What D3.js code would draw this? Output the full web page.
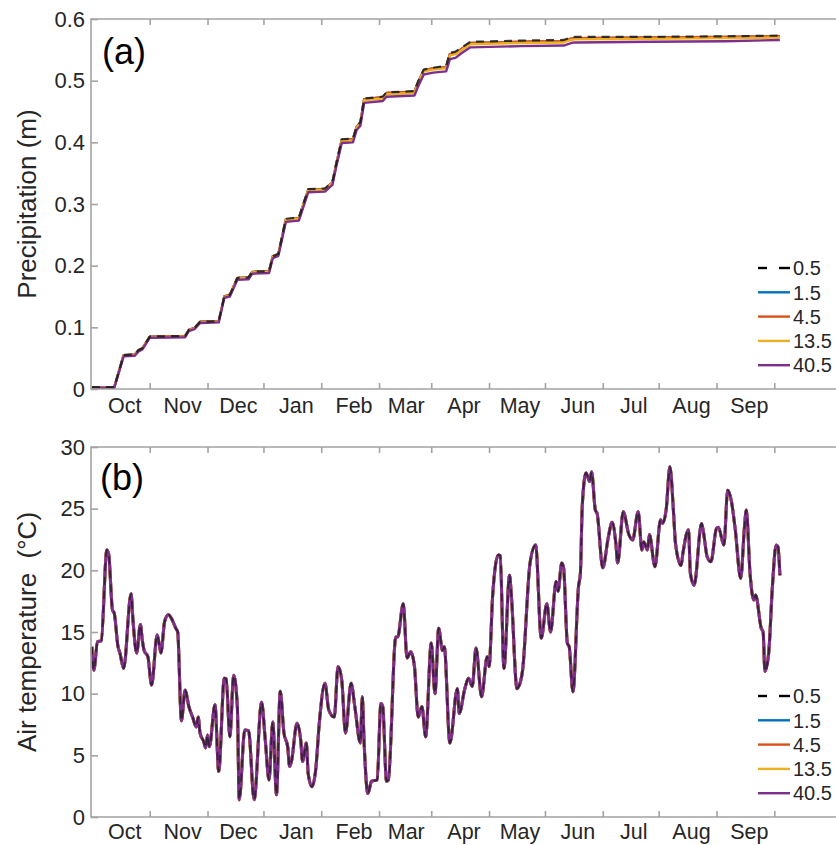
<!DOCTYPE html>
<html><head><meta charset="utf-8">
<script src="https://cdn.jsdelivr.net/npm/d3@7"></script>
<style>
body{margin:0;background:#fff}
svg{display:block;font-family:"Liberation Sans",Arial,Helvetica,sans-serif}
</style>
</head><body>
<svg id="chart" width="836" height="845"></svg>
<script>
// ---------------- data ----------------
const depths = ["0.5", "1.5", "4.5", "13.5", "40.5"];
const depthColors = ["#000000", "#0072BD", "#D95319", "#EDB120", "#7E2F8E"];
const precipTicks = [0, 0.1, 0.2, 0.3, 0.4, 0.5, 0.6];
const tempTicks = [0, 5, 10, 15, 20, 25, 30];
const monthTickStarts = ["2018-10-01","2018-11-01","2018-12-01","2019-01-01","2019-02-01","2019-03-01",
  "2019-04-01","2019-05-01","2019-06-01","2019-07-01","2019-08-01","2019-09-01"];
const monthLabels = ["Oct","Nov","Dec","Jan","Feb","Mar","Apr","May","Jun","Jul","Aug","Sep"];

// days counted from 31 Aug 2018
const precipDays = [0,12,17,23,25,27,31,50,52,55,58,68,71,74,78,84,86,95,97,100,104,111,116,125,129,131,134,140,142,144,146,156,158,173,175,178,183,190,192,195,198,203,230,253,257,259,300,340,369];
const precip_0_5 = [0.003,0.003,0.055,0.056,0.063,0.066,0.085,0.086,0.096,0.099,0.109,0.110,0.150,0.153,0.180,0.181,0.190,0.191,0.215,0.219,0.276,0.278,0.324,0.325,0.336,0.365,0.405,0.406,0.426,0.433,0.471,0.474,0.481,0.483,0.499,0.518,0.521,0.524,0.545,0.547,0.553,0.563,0.565,0.566,0.570,0.571,0.571,0.572,0.573];
const precip_1_5 = [0.003,0.003,0.055,0.056,0.063,0.066,0.085,0.086,0.096,0.099,0.109,0.110,0.150,0.153,0.180,0.181,0.190,0.191,0.215,0.219,0.275,0.277,0.323,0.324,0.335,0.364,0.404,0.405,0.425,0.432,0.470,0.473,0.480,0.482,0.498,0.517,0.520,0.522,0.543,0.545,0.551,0.561,0.563,0.564,0.568,0.569,0.570,0.571,0.572];
const precip_4_5 = [0.003,0.003,0.055,0.056,0.063,0.066,0.085,0.086,0.096,0.099,0.109,0.110,0.150,0.153,0.180,0.181,0.190,0.191,0.215,0.219,0.275,0.277,0.323,0.324,0.335,0.364,0.404,0.405,0.425,0.432,0.470,0.473,0.480,0.482,0.498,0.517,0.520,0.522,0.543,0.545,0.551,0.561,0.563,0.564,0.568,0.569,0.570,0.571,0.572];
const precip_13_5 = [0.003,0.003,0.054,0.055,0.062,0.065,0.084,0.085,0.095,0.098,0.108,0.109,0.149,0.152,0.179,0.180,0.189,0.190,0.214,0.218,0.274,0.276,0.322,0.323,0.334,0.363,0.402,0.403,0.423,0.430,0.468,0.471,0.478,0.480,0.496,0.515,0.518,0.520,0.541,0.543,0.549,0.559,0.561,0.562,0.566,0.567,0.568,0.569,0.570];
const precip_40_5 = [0.002,0.002,0.053,0.054,0.061,0.064,0.083,0.084,0.094,0.097,0.107,0.108,0.148,0.150,0.177,0.178,0.187,0.188,0.212,0.216,0.271,0.273,0.319,0.320,0.331,0.360,0.399,0.400,0.420,0.427,0.464,0.467,0.474,0.476,0.491,0.510,0.513,0.515,0.535,0.537,0.544,0.554,0.556,0.557,0.561,0.562,0.563,0.564,0.566];

const tempDays = [0,1,3,5,8,9,11,12,14,15,17,21,22,24,26,27,28,30,32,35,36,37,39,41,43,45,46,48,50,52,54,56,57,58,60,61,62,63,66,68,71,72,74,76,78,79,82,84,87,91,93,95,97,99,101,103,105,106,107,110,112,113,115,116,118,120,122,125,127,130,132,134,136,139,141,144,145,146,148,150,153,155,156,158,159,163,164,167,169,171,173,175,177,179,182,184,186,188,189,192,196,197,200,202,204,206,209,212,213,215,218,219,221,224,225,228,229,231,235,238,241,244,246,249,250,252,253,255,256,258,261,262,263,265,267,268,270,271,274,277,279,281,282,285,288,290,293,295,296,298,299,302,305,306,308,310,312,313,316,317,320,321,323,327,328,330,332,335,336,339,341,343,345,348,350,351,353,355,356,359,360,361,363,365,367,368,369];
// air temperature (°C); the five depth series overlap and are indistinguishable
const airTemp = [13.8,11.9,14.2,14.3,21.65,21.3,16.8,16.5,13.8,13.3,12.05,18.1,16.0,13.3,15.6,14.35,13.5,13.0,10.7,14.75,14.1,13.3,15.85,16.4,16.0,15.3,15.0,7.8,10.3,8.95,8.1,7.3,8.1,6.8,6.1,5.6,6.65,5.7,9.1,3.7,11.25,11.2,6.5,11.5,8.95,1.4,7.05,7.0,1.4,9.3,6.2,3.0,7.7,1.8,10.2,6.8,5.7,4.1,4.5,7.6,6.2,4.5,6.0,3.5,2.45,3.8,7.7,10.85,8.7,8.1,12.2,11.1,6.8,10.85,8.95,6.0,9.75,6.0,1.9,2.9,3.0,9.2,8.95,2.9,3.0,14.6,14.6,17.3,12.9,13.4,12.2,8.1,8.95,6.5,14.1,10.0,15.3,13.5,13.8,6.0,10.4,8.4,10.4,11.25,10.6,13.7,9.75,13.0,12.2,18.1,21.25,21.2,12.05,19.6,17.9,10.4,10.6,11.9,20.6,22.05,14.5,17.3,15.0,19.1,18.3,20.6,20.2,14.1,13.8,10.15,18.7,19.75,25.2,27.9,27.2,28.0,24.9,24.6,20.2,22.7,23.9,22.2,20.6,24.75,22.9,22.45,24.75,21.65,22.3,21.65,22.9,20.3,24.1,23.8,24.9,28.4,24.6,22.2,20.4,21.4,23.3,19.75,18.8,23.8,23.1,21.1,20.7,23.4,23.5,22.05,26.5,25.6,23.4,19.35,23.5,24.9,19.75,17.6,18.0,15.3,15.0,11.8,13.3,18.7,22.05,21.9,19.6];

const precipSeries = [precip_0_5, precip_1_5, precip_4_5, precip_13_5, precip_40_5];
const tempSeries = [airTemp, airTemp, airTemp, airTemp, airTemp];

// ---------------- drawing ----------------
const svg = d3.select("#chart");
const day0 = new Date(2018, 7, 31);
const toDate = d => d3.timeDay.offset(day0, d);
const parse = d3.timeParse("%Y-%m-%d");
const tickDates = monthTickStarts.map(parse);

const left = 91, right = 840;
const x = d3.scaleTime()
  .domain([new Date(2018, 7, 30, 12), new Date(2019, 9, 6, 6)])
  .range([left, right]);

const spine = "#a3a3a3", txt = "#262626";
const drawOrder = [1, 2, 3, 4, 0];

function panel(cfg) {
  const g = svg.append("g");
  const y = d3.scaleLinear().domain(cfg.domain).range([cfg.bottom, cfg.top]);

  // lines
  const line = d3.line().x(d => x(toDate(d[0]))).y(d => y(d[1])).curve(cfg.curve);
  drawOrder.forEach(i => {
    const pts = cfg.days.map((d, k) => [d, cfg.series[i][k]]);
    g.append("path").datum(pts)
      .attr("fill", "none")
      .attr("stroke", i === 0 ? "#1a1a1a" : depthColors[i])
      .attr("stroke-width", i === 0 ? cfg.dashW : cfg.lineW)
      .attr("stroke-dasharray", i === 0 ? "8,6" : null)
      .attr("stroke-linejoin", "round")
      .attr("opacity", i === 0 ? cfg.dashOp : 1)
      .attr("d", line);
  });

  // box
  g.append("path")
    .attr("d", `M${right + 10},${cfg.top}H${left}V${cfg.bottom}H${right + 10}`)
    .attr("fill", "none").attr("stroke", spine).attr("stroke-width", 1.6);

  // bottom axis (inward ticks)
  const xb = g.append("g").attr("transform", `translate(0,${cfg.bottom})`)
    .call(d3.axisBottom(x).tickValues(tickDates).tickSize(-6).tickPadding(cfg.xPad)
      .tickFormat((d, i) => monthLabels[i]));
  xb.select(".domain").remove();
  xb.selectAll(".tick line").attr("stroke", spine).attr("stroke-width", 1.6);
  xb.selectAll(".tick text").attr("x", -25.5).attr("fill", txt)
    .style("font-size", "21.5px");

  // top ticks
  const xt = g.append("g").attr("transform", `translate(0,${cfg.top})`)
    .call(d3.axisTop(x).tickValues(tickDates).tickSize(-6).tickFormat(""));
  xt.select(".domain").remove();
  xt.selectAll(".tick line").attr("stroke", spine).attr("stroke-width", 1.6);

  // left axis
  const ya = g.append("g").attr("transform", `translate(${left},0)`)
    .call(d3.axisLeft(y).tickValues(cfg.ticks).tickSize(-7).tickPadding(6)
      .tickFormat(cfg.fmt));
  ya.select(".domain").remove();
  ya.selectAll(".tick line").attr("stroke", spine).attr("stroke-width", 1.6);
  ya.selectAll(".tick text").attr("fill", txt).style("font-size", "22px");

  // y label
  g.append("text")
    .attr("transform", `translate(${cfg.ylabX},${(cfg.top + cfg.bottom) / 2}) rotate(-90)`)
    .attr("text-anchor", "middle")
    .attr("fill", txt).style("font-size", "26px")
    .style("white-space", "pre")
    .text(cfg.ylabel);

  // panel letter
  g.append("text").attr("x", cfg.letterX).attr("y", cfg.letterY)
    .attr("fill", "#000").style("font-size", "36px").text(cfg.letter);

  // legend
  depths.forEach((lab, i) => {
    const cy = cfg.legendTop + i * 24.3;
    if (i === 0) {
      g.append("line").attr("x1", 758).attr("x2", 767).attr("y1", cy).attr("y2", cy)
        .attr("stroke", "#000").attr("stroke-width", 2.4);
      g.append("line").attr("x1", 779).attr("x2", 790).attr("y1", cy).attr("y2", cy)
        .attr("stroke", "#000").attr("stroke-width", 2.4);
    } else {
      g.append("line").attr("x1", 758).attr("x2", 790).attr("y1", cy).attr("y2", cy)
        .attr("stroke", depthColors[i]).attr("stroke-width", 2.4);
    }
    g.append("text").attr("x", 793).attr("y", cy).attr("dy", "0.36em")
      .attr("fill", txt).style("font-size", "20px").text(lab);
  });
}

panel({
  top: 19, bottom: 389, domain: [0, 0.6], ticks: precipTicks,
  fmt: d => d === 0 ? "0" : d3.format(".1f")(d),
  days: precipDays, series: precipSeries, curve: d3.curveLinear,
  lineW: 2.4, dashW: 2.2, dashOp: 0.85, xPad: 9,
  ylabel: "Precipitation (m)", ylabX: 36,
  letter: "(a)", letterX: 102, letterY: 64, legendTop: 268
});

panel({
  top: 447, bottom: 817, domain: [0, 30], ticks: tempTicks,
  fmt: d3.format("d"),
  days: tempDays, series: tempSeries, curve: d3.curveMonotoneX,
  lineW: 3, dashW: 1.8, dashOp: 0.7, xPad: 7,
  ylabel: "Air temperature  (°C)", ylabX: 36,
  letter: "(b)", letterX: 100, letterY: 490, legendTop: 696
});
</script>
</body></html>
